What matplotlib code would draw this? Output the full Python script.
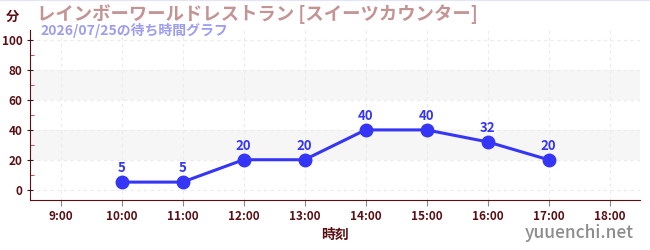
import matplotlib
matplotlib.use("Agg")
import matplotlib.pyplot as plt
from matplotlib.ticker import MultipleLocator

plt.rcParams['font.family'] = ['Noto Sans CJK JP', 'DejaVu Sans']

# chart data
hours = [10, 11, 12, 13, 14, 15, 16, 17]
waits = [5, 5, 20, 20, 40, 40, 32, 20]
tick_hours = [9, 10, 11, 12, 13, 14, 15, 16, 17, 18]
tick_labels = [str(h) + ":00" for h in tick_hours]
title = "レインボーワールドレストラン [スイーツカウンター]"
subtitle = "2026/07/25の待ち時間グラフ"

maroon = "#5a0f14"
blue = "#3535f5"

fig = plt.figure(figsize=(6.5, 2.5), dpi=100)
ax = fig.add_axes([30 / 650, 50 / 250, 610 / 650, 170 / 250])

# shaded bands
for lo in (20, 60):
    ax.axhspan(lo, lo + 20, color="#f6f6f6", zorder=0, lw=0)

ax.plot(hours, waits, color=blue, lw=2.2, marker="o", ms=9, zorder=3)
for h, w in zip(hours, waits):
    ax.annotate(str(w), (h, w), xytext=(0, 5), textcoords="offset points",
                ha="center", va="bottom", color=blue, fontsize=9.5, fontweight="bold")

ax.set_xlim(8.5, 18.5)
ax.set_ylim(-7, 107)
ax.set_xticks(tick_hours)
ax.set_xticklabels(tick_labels)
ax.yaxis.set_major_locator(MultipleLocator(20))
ax.yaxis.set_minor_locator(MultipleLocator(10))

ax.grid(True, which="major", color="#ebebeb", ls=(0, (3, 3)), lw=0.8, zorder=1)
for s in ("top", "right"):
    ax.spines[s].set_visible(False)
ax.spines["left"].set_color(maroon)
ax.spines["bottom"].set_color(maroon)

ax.tick_params(axis="x", colors="#888888", labelcolor=maroon, labelsize=8.5, length=4)
ax.tick_params(axis="y", which="major", colors="#222222", labelcolor=maroon,
               labelsize=8.5, length=4, direction="inout")
ax.tick_params(axis="y", which="minor", colors="#dd2222", length=3, direction="in")
for lab in ax.get_xticklabels() + ax.get_yticklabels():
    lab.set_fontweight("bold")

ax.set_xlabel("時刻", color=maroon, fontsize=10, fontweight="bold", labelpad=3)

fig.text(12 / 650, 1 - 17 / 250, "分", color=maroon, fontsize=9.5, fontweight="bold",
         ha="center", va="center")
fig.text(37 / 650, 1 - 14 / 250, title, color="#c49393", fontsize=13.2, fontweight="bold",
         ha="left", va="center")
fig.text(40 / 650, 1 - 31 / 250, subtitle, color="#9d9df0", fontsize=10, fontweight="bold",
         ha="left", va="center")
fig.text(634 / 650, 1 - 233 / 250, "yuuenchi.net", color="#8c8c8c", fontsize=12.5,
         fontweight="medium", ha="right", va="center")

fig.add_artist(plt.Line2D([0, 1], [0.999, 0.999], color="#e4e4f8", lw=1.5,
                          transform=fig.transFigure))

fig.savefig("out.png", dpi=100)
